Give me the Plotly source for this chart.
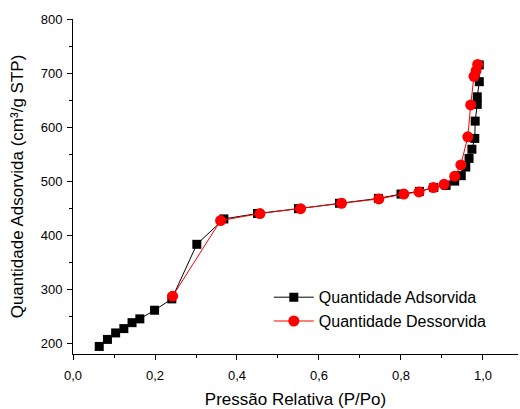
import plotly.graph_objects as go

ads_x = [0.064, 0.084, 0.104, 0.124, 0.144, 0.163, 0.199, 0.241, 0.302, 0.368,
         0.450, 0.550, 0.650, 0.745, 0.800, 0.845, 0.880, 0.910, 0.931, 0.947,
         0.958, 0.966, 0.973, 0.980, 0.981, 0.986, 0.986, 0.991, 0.991]
ads_y = [194, 207, 219, 227, 238, 245, 261, 282, 383, 430,
         440, 449, 459, 468, 476, 481, 488, 492, 500, 510,
         526, 542, 559, 579, 611, 642, 656, 684, 715]

des_x = [0.987, 0.983, 0.978, 0.970, 0.963, 0.946, 0.931, 0.905, 0.879, 0.844,
         0.807, 0.746, 0.655, 0.555, 0.456, 0.360, 0.243]
des_y = [716, 704, 694, 641, 582, 530, 509, 494, 488, 480,
         476, 467, 459, 449, 440, 427, 287]

x_ticks = [0.0, 0.2, 0.4, 0.6, 0.8, 1.0]
y_ticks = [200, 300, 400, 500, 600, 700, 800]

font = "Liberation Sans, Arial, sans-serif"

fig = go.Figure()
fig.add_trace(go.Scatter(
    x=ads_x, y=ads_y, mode="lines+markers", name="Quantidade Adsorvida",
    line=dict(color="black", width=1),
    marker=dict(symbol="square", size=9, color="black"),
))
fig.add_trace(go.Scatter(
    x=des_x, y=des_y, mode="lines+markers", name="Quantidade Dessorvida",
    line=dict(color="red", width=1),
    marker=dict(symbol="circle", size=11, color="red"),
))

fig.update_layout(
    width=520, height=409,
    margin=dict(l=73, r=2, t=19, b=55),
    paper_bgcolor="white", plot_bgcolor="white",
    separators=",.",
    font=dict(family=font, color="black", size=13),
    showlegend=True,
    legend=dict(x=0.44, y=0.22, xanchor="left", yanchor="top",
                bgcolor="rgba(0,0,0,0)", font=dict(size=16),
                tracegroupgap=0, itemwidth=40, itemsizing="trace"),
    xaxis=dict(
        range=[0, 1.0854], tickvals=x_ticks, tickformat=".1f",
        showgrid=False, zeroline=False, showline=True, linecolor="black",
        linewidth=1, ticks="outside", ticklen=5, tickcolor="black",
        ticklabelstandoff=4,
        minor=dict(ticks="outside", ticklen=3, dtick=0.1, tick0=0, tickcolor="black"),
        title=dict(text="Pressão Relativa (P/Po)", font=dict(size=17), standoff=12),
        tickfont=dict(size=13),
    ),
    yaxis=dict(
        range=[180, 800], tickvals=y_ticks,
        showgrid=False, zeroline=False, showline=True, linecolor="black",
        linewidth=1, ticks="outside", ticklen=5, tickcolor="black",
        ticklabelstandoff=2,
        minor=dict(ticks="outside", ticklen=3, dtick=50, tick0=0, tickcolor="black"),
        title=dict(text="Quantidade Adsorvida (cm³/g STP)", font=dict(size=17), standoff=12),
        tickfont=dict(size=13),
    ),
)

fig.write_html("out.html", config={"displayModeBar": False},
               post_script="document.body.style.margin='0';")
